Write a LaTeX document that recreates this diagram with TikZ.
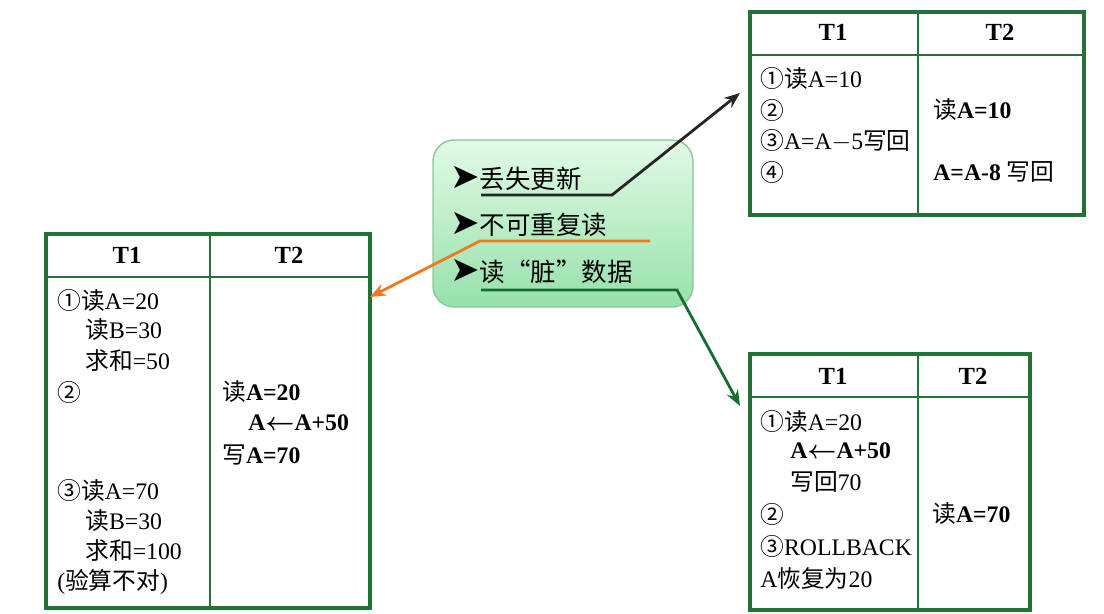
\documentclass[tikz,border=0pt]{standalone}
\usepackage{fontspec}
\setmainfont{Liberation Serif}
\newfontfamily\cjk{Noto Sans CJK SC}
\newfontfamily\dv{DejaVu Sans}
\usetikzlibrary{arrows.meta}
\definecolor{bgreen}{RGB}{35,115,55}
\definecolor{lgreen}{RGB}{150,225,170}
\definecolor{vlgreen}{RGB}{225,250,230}
\definecolor{orng}{RGB}{240,120,30}
\definecolor{dgreen}{RGB}{20,110,50}
\newcommand{\lar}{{\boldmath$\leftarrow$}}
\newcommand{\bul}{{\dv\fontsize{20}{20}\selectfont ➤}}
\tikzset{
 tbl/.style={draw=bgreen,line width=2pt},
 sep/.style={draw=bgreen,line width=0.8pt},
 txt/.style={anchor=west,inner sep=0pt,font=\fontsize{13.5}{16}\selectfont},
 hd/.style={inner sep=0pt,font=\fontsize{14}{16}\selectfont\bfseries},
 itm/.style={anchor=west,inner sep=0pt,font=\fontsize{14.5}{16}\selectfont\cjk},
 conn/.style={line width=1.6pt,-{Stealth[length=9pt,width=7pt]}}
}
\begin{document}
\begin{tikzpicture}[x=0.02cm,y=-0.02cm]
\useasboundingbox (0,0) rectangle (1104,613);
% top-right table
\node[tbl,minimum width=334*0.02cm,minimum height=203*0.02cm,anchor=north west,inner sep=0pt] (tA) at (748,10) {};
\draw[sep] (748,55) -- (1082,55);
\draw[sep] (918,10) -- (918,213);
\node[hd] (tAh1) at (833,32) {T1};
\node[hd] (tAh2) at (1000,32) {T2};
\node[txt] (a1) at (760,78) {{\cjk ①读}A=10};
\node[txt] (a2) at (760,110) {{\cjk ②}};
\node[txt] (a3) at (760,141) {{\cjk ③}A=A$-$5{\cjk 写回}};
\node[txt] (a4) at (760,172) {{\cjk ④}};
\node[txt] (a5) at (933,110) {{\cjk 读}\textbf{A=10}};
\node[txt] (a6) at (933,172) {\textbf{A=A-8} {\cjk 写回}};
% left table
\node[tbl,minimum width=324*0.02cm,minimum height=374*0.02cm,anchor=north west,inner sep=0pt] (tB) at (44,232) {};
\draw[sep] (44,277) -- (368,277);
\draw[sep] (210,232) -- (210,606);
\node[hd] (tBh1) at (127,255) {T1};
\node[hd] (tBh2) at (289,255) {T2};
\node[txt] (b1) at (57,300) {{\cjk ①读}A=20};
\node[txt] (b2) at (85,330) {{\cjk 读}B=30};
\node[txt] (b3) at (85,361) {{\cjk 求和}=50};
\node[txt] (b4) at (57,392) {{\cjk ②}};
\node[txt] (b5) at (57,490) {{\cjk ③读}A=70};
\node[txt] (b6) at (85,521) {{\cjk 读}B=30};
\node[txt] (b7) at (85,551) {{\cjk 求和}=100};
\node[txt] (b8) at (57,582) {({\cjk 验算不对})};
\node[txt] (b9) at (222,392) {{\cjk 读}\textbf{A=20}};
\node[txt] (b10) at (248,423) {\textbf{A\lar A+50}};
\node[txt] (b11) at (222,455) {{\cjk 写}\textbf{A=70}};
% bottom-right table
\node[tbl,minimum width=280*0.02cm,minimum height=256*0.02cm,anchor=north west,inner sep=0pt] (tC) at (748,352) {};
\draw[sep] (748,397) -- (1028,397);
\draw[sep] (918,352) -- (918,608);
\node[hd] (tCh1) at (833,376) {T1};
\node[hd] (tCh2) at (973,376) {T2};
\node[txt] (c1) at (760,421) {{\cjk ①读}A=20};
\node[txt] (c2) at (790,451) {\textbf{A\lar A+50}};
\node[txt] (c3) at (790,482) {{\cjk 写回}70};
\node[txt] (c4) at (760,514) {{\cjk ②}};
\node[txt] (c5) at (760,546) {{\cjk ③}ROLLBACK};
\node[txt] (c6) at (760,578) {A{\cjk 恢复为}20};
\node[txt] (c7) at (932,514) {{\cjk 读}\textbf{A=70}};
% center box
\shade[top color=vlgreen,bottom color=lgreen,draw=lgreen!70!gray,rounded corners=12pt,line width=0.8pt] (433,140) rectangle (693,307);
\node[itm] (m1) at (450,178) {\bul 丢失更新};
\node[itm] (m2) at (450,224) {\bul 不可重复读};
\node[itm] (m3) at (450,271) {\bul 读“脏”数据};
% connectors
\coordinate (k1) at (481,195); \coordinate (k2) at (612,195); \coordinate (k3) at (740,93);
\draw[conn,black!85] (k1) -- (k2) -- (k3);
\coordinate (o1) at (650,241); \coordinate (o2) at (480,241); \coordinate (o3) at (370,297);
\draw[conn,orng] (o1) -- (o2) -- (o3);
\coordinate (g1) at (481,290); \coordinate (g2) at (677,290); \coordinate (g3) at (740,406);
\draw[conn,dgreen] (g1) -- (g2) -- (g3);
\end{tikzpicture}
\end{document}
